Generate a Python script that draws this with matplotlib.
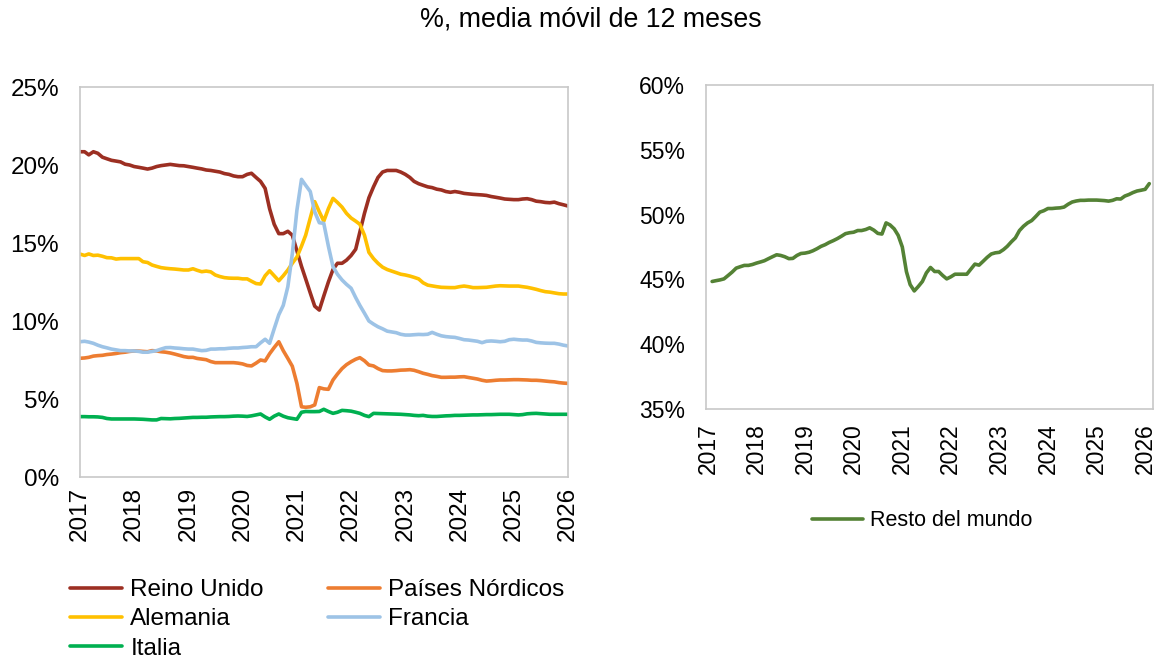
import numpy as np
import pandas as pd
import matplotlib
matplotlib.use("Agg")
import matplotlib.pyplot as plt
import matplotlib.dates as mdates
from matplotlib.ticker import FuncFormatter

plt.rcParams['font.family'] = ['Liberation Sans', 'DejaVu Sans']

# ---------------- data ----------------
months_left = pd.date_range('2017-01-01', periods=109, freq='MS')
months_right = pd.date_range('2017-02-01', periods=109, freq='MS')

reino_unido = [
    20.85, 20.85, 20.65, 20.85, 20.75, 20.5, 20.4, 20.3, 20.25, 20.2, 20.05, 20.0,
    19.9, 19.85, 19.8, 19.74, 19.8, 19.9, 19.96, 20.0, 20.04, 20.0, 19.96, 19.95,
    19.9, 19.85, 19.8, 19.75, 19.68, 19.65, 19.6, 19.55, 19.45, 19.4, 19.3, 19.25,
    19.25, 19.4, 19.47, 19.2, 18.95, 18.5, 17.2, 16.2, 15.6, 15.6, 15.75, 15.5,
    14.5, 13.5, 12.7, 11.8, 10.95, 10.7, 11.6, 12.5, 13.3, 13.7, 13.7, 13.9,
    14.2, 14.6, 15.7, 16.9, 17.9, 18.6, 19.2, 19.55, 19.65, 19.65, 19.65, 19.55,
    19.4, 19.2, 18.95, 18.8, 18.7, 18.6, 18.55, 18.45, 18.4, 18.3, 18.25, 18.3,
    18.25, 18.18, 18.15, 18.12, 18.1, 18.08, 18.05, 17.98, 17.93, 17.88, 17.82, 17.8,
    17.78, 17.78, 17.82, 17.84, 17.78, 17.68, 17.65, 17.6, 17.58, 17.62, 17.52, 17.45,
    17.37]

paises_nordicos = [
    7.61, 7.63, 7.67, 7.75, 7.78, 7.8, 7.85, 7.88, 7.92, 7.97, 8.0, 8.05,
    8.08, 8.07, 8.05, 8.03, 8.1, 8.08, 8.03, 8.0, 7.95, 7.88, 7.8, 7.72,
    7.67, 7.67, 7.6, 7.56, 7.52, 7.4, 7.33, 7.33, 7.33, 7.33, 7.33, 7.3,
    7.25, 7.15, 7.12, 7.3, 7.5, 7.44, 7.9, 8.3, 8.67, 8.1, 7.6, 7.1,
    6.0, 4.5, 4.47, 4.5, 4.62, 5.73, 5.65, 5.62, 6.22, 6.6, 6.95, 7.2,
    7.39, 7.55, 7.65, 7.45, 7.18, 7.12, 6.95, 6.82, 6.8, 6.8, 6.82, 6.85,
    6.86, 6.88, 6.84, 6.75, 6.65, 6.58, 6.5, 6.45, 6.39, 6.39, 6.4, 6.4,
    6.42, 6.43, 6.38, 6.33, 6.28, 6.2, 6.15, 6.17, 6.2, 6.22, 6.22, 6.23,
    6.24, 6.24, 6.23, 6.22, 6.2, 6.2, 6.18, 6.15, 6.12, 6.1, 6.05, 6.02,
    6.0]

alemania = [
    14.29, 14.2, 14.3, 14.2, 14.22, 14.15, 14.06, 14.05, 13.97, 14.0, 14.0, 14.0,
    14.0, 14.0, 13.8, 13.75, 13.59, 13.5, 13.42, 13.38, 13.35, 13.33, 13.3, 13.27,
    13.27, 13.35, 13.25, 13.16, 13.2, 13.15, 12.95, 12.85, 12.78, 12.75, 12.74, 12.74,
    12.7, 12.7, 12.55, 12.4, 12.37, 12.9, 13.22, 12.9, 12.58, 12.9, 13.27, 13.7,
    14.1, 14.8, 15.5, 16.6, 17.65, 17.0, 16.4, 17.2, 17.86, 17.6, 17.3, 16.9,
    16.6, 16.4, 16.2, 15.5, 14.4, 14.0, 13.7, 13.45, 13.3, 13.2, 13.1, 13.0,
    12.95, 12.88, 12.8, 12.7, 12.45, 12.3, 12.25, 12.2, 12.16, 12.15, 12.14, 12.14,
    12.2, 12.24, 12.2, 12.14, 12.14, 12.15, 12.16, 12.2, 12.24, 12.26, 12.25, 12.24,
    12.24, 12.24, 12.2, 12.16, 12.1, 12.03, 11.95, 11.88, 11.85, 11.8, 11.75, 11.73,
    11.73]

francia = [
    8.67, 8.7, 8.65, 8.57, 8.45, 8.35, 8.28, 8.2, 8.15, 8.1, 8.1, 8.08,
    8.08, 8.05, 8.0, 8.0, 8.05, 8.1, 8.2, 8.29, 8.3, 8.27, 8.25, 8.22,
    8.2, 8.2, 8.15, 8.1, 8.12, 8.2, 8.2, 8.22, 8.22, 8.25, 8.27, 8.27,
    8.3, 8.32, 8.35, 8.35, 8.6, 8.83, 8.57, 9.5, 10.4, 11.0, 12.2, 14.3,
    17.1, 19.08, 18.7, 18.3, 17.0, 16.3, 16.26, 14.8, 13.48, 13.0, 12.63, 12.35,
    12.1, 11.5, 11.0, 10.5, 10.0, 9.8, 9.63, 9.5, 9.35, 9.3, 9.25, 9.15,
    9.1, 9.1, 9.12, 9.14, 9.13, 9.15, 9.27, 9.15, 9.05, 9.0, 8.97, 8.95,
    8.88, 8.8, 8.78, 8.74, 8.7, 8.61, 8.7, 8.72, 8.7, 8.67, 8.7, 8.8,
    8.83, 8.8, 8.78, 8.78, 8.72, 8.63, 8.6, 8.58, 8.57, 8.57, 8.52, 8.45,
    8.4]

italia = [
    3.87, 3.87, 3.86, 3.86, 3.85, 3.82, 3.75, 3.72, 3.72, 3.72, 3.72, 3.72,
    3.72, 3.71, 3.7, 3.68, 3.66, 3.66, 3.75, 3.74, 3.73, 3.75, 3.76, 3.78,
    3.8, 3.82, 3.82, 3.83, 3.83, 3.85, 3.86, 3.87, 3.87, 3.88, 3.9, 3.91,
    3.9, 3.88, 3.92, 3.98, 4.04, 3.85, 3.7, 3.9, 4.04, 3.9, 3.8, 3.75,
    3.7, 4.15, 4.2, 4.19, 4.19, 4.2, 4.34, 4.2, 4.08, 4.15, 4.27, 4.25,
    4.22, 4.15, 4.08, 3.95, 3.87, 4.08, 4.07, 4.06, 4.05, 4.04, 4.03, 4.02,
    4.0, 3.98, 3.95, 3.93, 3.95, 3.9, 3.88, 3.88, 3.9, 3.92, 3.93, 3.95,
    3.95, 3.96, 3.97, 3.98, 3.98, 3.99, 4.0, 4.0, 4.01, 4.02, 4.02, 4.02,
    4.0, 3.98, 4.0, 4.05, 4.07, 4.08, 4.06, 4.04, 4.02, 4.02, 4.02, 4.02,
    4.02]

resto_del_mundo = [
    44.84, 44.9, 44.96, 45.04, 45.3, 45.56, 45.87, 45.98, 46.08, 46.08, 46.15,
    46.26, 46.35, 46.44, 46.6, 46.75, 46.9, 46.85, 46.75, 46.6, 46.62, 46.85, 47.0,
    47.03, 47.1, 47.21, 47.37, 47.55, 47.68, 47.85, 47.99, 48.15, 48.33, 48.53, 48.6,
    48.64, 48.77, 48.77, 48.85, 48.98, 48.8, 48.55, 48.5, 49.36, 49.2, 48.9, 48.4,
    47.5, 45.6, 44.6, 44.11, 44.45, 44.84, 45.5, 45.92, 45.61, 45.61, 45.3, 45.04,
    45.2, 45.4, 45.4, 45.4, 45.4, 45.8, 46.18, 46.1, 46.4, 46.7, 46.96, 47.05,
    47.09, 47.3, 47.55, 47.9, 48.2, 48.77, 49.1, 49.36, 49.54, 49.85, 50.19, 50.3,
    50.47, 50.47, 50.5, 50.52, 50.58, 50.8, 50.97, 51.05, 51.1, 51.1, 51.12, 51.12,
    51.12, 51.1, 51.08, 51.04, 51.1, 51.22, 51.2, 51.43, 51.55, 51.7, 51.82, 51.88,
    51.95, 52.39]

title = '%, media móvil de 12 meses'
left_labels = ['Reino Unido', 'Países Nórdicos', 'Alemania', 'Francia', 'Italia']
right_label = 'Resto del mundo'

# ---------------- style ----------------
colors = {
    'Reino Unido': '#9C2F22',
    'Países Nórdicos': '#ED7D31',
    'Alemania': '#FFC000',
    'Francia': '#9DC3E6',
    'Italia': '#00B050',
}
green = '#548235'
FS_L = 17.5
FS_R = 16.5
LW = 2.6
spine_c = '#C8C8C8'

fig = plt.figure(figsize=(11.65, 6.61), dpi=100)
W, H = 1165, 661

def ax_rect(x0, y0, x1, y1):
    return [x0 / W, 1 - y1 / H, (x1 - x0) / W, (y1 - y0) / H]

ax1 = fig.add_axes(ax_rect(80, 87, 568, 477))
ax2 = fig.add_axes(ax_rect(706, 85, 1153, 409))

series = [reino_unido, paises_nordicos, alemania, francia, italia]
handles = {}
for lab, vals in zip(left_labels, series):
    h, = ax1.plot(months_left, vals, color=colors[lab], lw=LW, label=lab,
                  solid_capstyle='round', solid_joinstyle='round')
    handles[lab] = h

hr, = ax2.plot(months_right, resto_del_mundo, color=green, lw=LW, label=right_label,
               solid_capstyle='round', solid_joinstyle='round')

pct = FuncFormatter(lambda v, p: f'{v:.0f}%')
years = [pd.Timestamp(f'{y}-01-01') for y in range(2017, 2027)]

ax1.set_ylim(0, 25)
ax1.set_yticks(range(0, 26, 5))
ax1.set_xlim(pd.Timestamp('2017-01-01'), pd.Timestamp('2026-01-01'))

ax2.set_ylim(35, 60)
ax2.set_yticks(range(35, 61, 5))
ax2.set_xlim(pd.Timestamp('2016-12-17'), pd.Timestamp('2026-03-01'))

for ax, fs, xpad in ((ax1, FS_L, 7), (ax2, FS_R, 10)):
    ax.yaxis.set_major_formatter(pct)
    ax.set_xticks(years)
    ax.xaxis.set_major_formatter(mdates.DateFormatter('%Y'))
    ax.tick_params(axis='x', labelrotation=90, length=0, pad=xpad, labelsize=fs)
    ax.tick_params(axis='y', length=0, pad=15, labelsize=fs)
    for s in ax.spines.values():
        s.set_color(spine_c)
        s.set_linewidth(1.2)

fig.text(591 / W, 1 - 20 / H, title, ha='center', va='center', fontsize=19.3)

order = ['Reino Unido', 'Alemania', 'Italia', 'Países Nórdicos', 'Francia']
fig.legend([handles[k] for k in order], order, ncol=2, frameon=False,
           loc='upper left', bbox_to_anchor=(70 / W, 1 - 579 / H),
           fontsize=FS_L, handlelength=2.15, handletextpad=0.33,
           columnspacing=2.65, labelspacing=0.3, borderaxespad=0, borderpad=0)

fig.legend([hr], [right_label], frameon=False, loc='center',
           bbox_to_anchor=(922 / W, 1 - 521 / H), fontsize=15.5,
           handlelength=2.4, handletextpad=0.3, borderpad=0)

fig.savefig('out.png', dpi=100)
